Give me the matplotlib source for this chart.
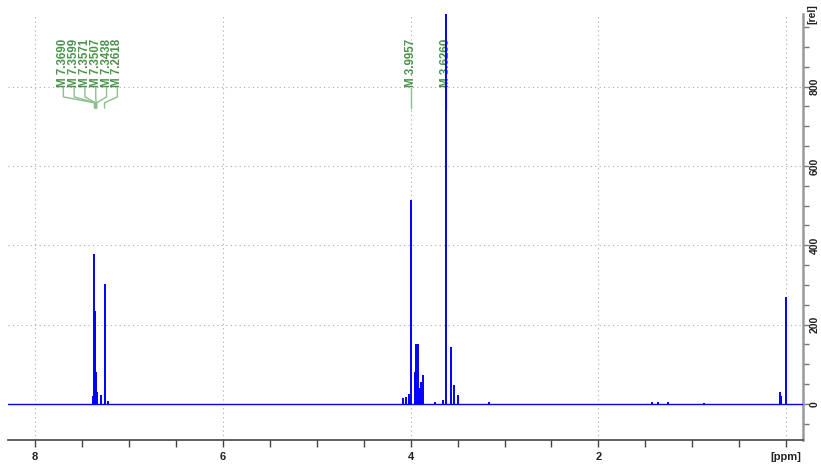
import matplotlib
matplotlib.use("Agg")
import matplotlib.pyplot as plt
from matplotlib.ticker import MultipleLocator, FixedLocator

# ---- data ----
peak_ppm = [7.385, 7.3690, 7.3599, 7.3571, 7.3507, 7.3438, 7.300, 7.2618, 7.22,
            4.082, 4.053, 4.018, 3.9957, 3.950, 3.940, 3.922, 3.904, 3.886, 3.869,
            3.745, 3.656, 3.6260, 3.574, 3.543, 3.497, 3.17,
            1.43, 1.37, 1.26, 0.87, 0.064, 0.05, 0.0]
peak_height = [20, 378, 235, 80, 48, 30, 22, 303, 8,
               15, 18, 25, 515, 81, 151, 151, 40, 55, 73,
               5, 10, 1100, 144, 48, 23, 4,
               6, 5, 4, 3, 31, 20, 270]

label_groups = [[7.3690, 7.3599, 7.3571, 7.3507, 7.3438, 7.2618],
                [3.9957],
                [3.6260]]

x_major = [8, 6, 4, 2, 0]
x_ticklabels = ["8", "6", "4", "2", "[ppm]"]
y_major = [0, 200, 400, 600, 800]

# ---- style ----
BLUE = "#0000ff"
TXT_GREEN = "#4a934a"
LEAD_GREEN = "#8cc08c"
XLIM = (8.29, -0.18)
YLIM = (-91, 983)
FONT = "Liberation Sans"

fig = plt.figure(figsize=(8.21, 4.66), dpi=100)
ax = fig.add_axes([8/821, 1-440/466, (803-8)/821, (440-14)/466])
ax.set_xlim(*XLIM)
ax.set_ylim(*YLIM)

# grid
for x in x_major:
    ax.axvline(x, color="#a8a8a8", lw=0.8, ls=(0, (1, 3)), zorder=0)
for y in y_major[1:]:
    ax.axhline(y, color="#a8a8a8", lw=0.8, ls=(0, (1, 3)), zorder=0)

# peak labels and leaders
label_y_text = 797
for group in label_groups:
    n = len(group)
    if n > 1:
        tx_list = [7.70 - i * 0.115 for i in range(n)]
    else:
        tx_list = list(group)
    for p, tx in zip(group, tx_list):
        ax.text(tx, label_y_text + 3, f"M {p:.4f}", rotation=90, ha="center",
                va="bottom", color=TXT_GREEN, fontsize=8.3, fontweight="bold",
                family=FONT, zorder=3)
        ax.plot([tx, tx, p, p], [797, 774, 759, 746], color=LEAD_GREEN,
                lw=1.0, zorder=3)

# spectrum
ax.plot(list(XLIM), [0, 0], color=BLUE, lw=1.0, zorder=4)
ax.vlines(peak_ppm, 0, peak_height, color=BLUE, lw=1.4, zorder=4)

# spines / ticks
for s in ["left", "top"]:
    ax.spines[s].set_visible(False)
ax.spines["bottom"].set_color("#444444")
ax.spines["bottom"].set_linewidth(1.2)
ax.spines["right"].set_color("#999999")
ax.spines["right"].set_linewidth(1.8)

ax.xaxis.set_major_locator(FixedLocator(x_major))
ax.set_xticklabels(x_ticklabels)
ax.xaxis.set_minor_locator(MultipleLocator(0.5))
ax.yaxis.tick_right()
ax.yaxis.set_major_locator(FixedLocator(y_major))
ax.yaxis.set_minor_locator(MultipleLocator(50))
ax.tick_params(axis="x", which="both", direction="out", length=5, width=1,
               color="#444444", pad=4, labelsize=8)
ax.tick_params(axis="y", which="both", direction="out", length=4.5, width=1,
               color="#777777", pad=0.5, labelsize=7.5, left=False, right=True)
for lab in ax.get_xticklabels():
    lab.set_fontweight("bold"); lab.set_family(FONT); lab.set_color("#222222")
for lab in ax.get_yticklabels():
    lab.set_fontweight("bold"); lab.set_family(FONT); lab.set_color("#222222")
    lab.set_rotation(90); lab.set_va("center")

fig.text(812/821, 1-24/466, "[rel]", rotation=90, ha="center", va="bottom",
         fontsize=7.5, fontweight="bold", family=FONT, color="#222222")

fig.savefig("out.png", dpi=100)
